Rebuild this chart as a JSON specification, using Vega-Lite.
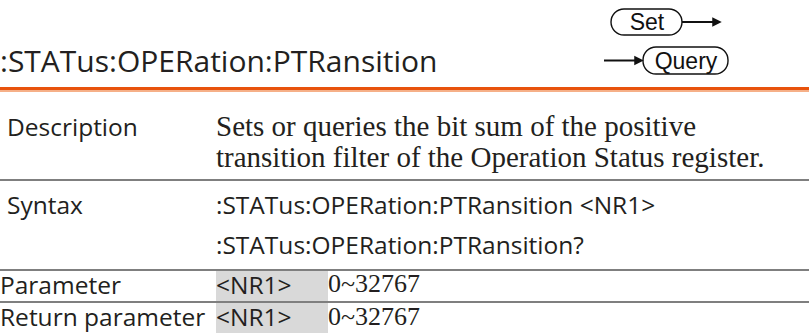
{
  "$schema": "https://vega.github.io/schema/vega-lite/v6.json",
  "width": 809,
  "height": 333,
  "padding": 0,
  "autosize": {"type": "fit", "contains": "padding"},
  "background": "white",
  "config": {"view": {"stroke": null}},
  "datasets": {
    "orange": [{"x": 0, "x2": 809, "y": 87, "y2": 90}],
    "orangeLight": [{"x": 0, "x2": 809, "y": 90, "y2": 92}],
    "separators": [
      {"x": 0, "x2": 809, "y": 179, "y2": 181},
      {"x": 0, "x2": 809, "y": 269, "y2": 271},
      {"x": 0, "x2": 809, "y": 301, "y2": 303}
    ],
    "cells": [
      {"x": 216, "x2": 328, "y": 271, "y2": 301},
      {"x": 216, "x2": 328, "y": 303, "y2": 333}
    ],
    "pills": [
      {"x": 611, "x2": 682, "y": 9, "y2": 35, "t": "Set"},
      {"x": 643, "x2": 728, "y": 47, "y2": 74, "t": "Query"}
    ],
    "arrowLines": [
      {"x": 682, "x2": 714, "y": 22},
      {"x": 604, "x2": 636, "y": 60.5}
    ],
    "arrowHeads": [
      {"x": 717, "y": 22},
      {"x": 639, "y": 60.5}
    ],
    "pillText": [
      {"x": 647, "y": 30, "t": "Set"},
      {"x": 686, "y": 69, "t": "Query"}
    ],
    "title": [{"x": 0, "y": 72, "t": ":STATus:OPERation:PTRansition"}],
    "sans": [
      {"x": 7, "y": 136, "t": "Description"},
      {"x": 7, "y": 214, "t": "Syntax"},
      {"x": 216, "y": 214, "t": ":STATus:OPERation:PTRansition <NR1>"},
      {"x": 216, "y": 254, "t": ":STATus:OPERation:PTRansition?"},
      {"x": 0, "y": 294, "t": "Parameter"},
      {"x": 216, "y": 294, "t": "<NR1>"},
      {"x": 0, "y": 326, "t": "Return parameter"},
      {"x": 216, "y": 326, "t": "<NR1>"}
    ],
    "serif": [
      {"x": 216, "y": 136, "t": "Sets or queries the bit sum of the positive"},
      {"x": 216, "y": 167, "t": "transition filter of the Operation Status register."}
    ],
    "values": [
      {"x": 328, "y": 292, "t": "0~32767"},
      {"x": 328, "y": 325, "t": "0~32767"}
    ]
  },
  "encoding": {
    "x": {"field": "x", "type": "quantitative", "axis": null, "scale": {"domain": [0, 809], "nice": false, "zero": false}},
    "y": {"field": "y", "type": "quantitative", "axis": null, "scale": {"domain": [0, 333], "nice": false, "zero": false, "reverse": true}}
  },
  "layer": [
    {
      "data": {"name": "orange"},
      "mark": {"type": "rect", "fill": "#e8520c"},
      "encoding": {"x2": {"field": "x2"}, "y2": {"field": "y2"}}
    },
    {
      "data": {"name": "orangeLight"},
      "mark": {"type": "rect", "fill": "#f6b088"},
      "encoding": {"x2": {"field": "x2"}, "y2": {"field": "y2"}}
    },
    {
      "data": {"name": "cells"},
      "mark": {"type": "rect", "fill": "#d9d9d9"},
      "encoding": {"x2": {"field": "x2"}, "y2": {"field": "y2"}}
    },
    {
      "data": {"name": "separators"},
      "mark": {"type": "rect", "fill": "#7f7f7f"},
      "encoding": {"x2": {"field": "x2"}, "y2": {"field": "y2"}}
    },
    {
      "data": {"name": "pills"},
      "mark": {"type": "rect", "fill": "white", "stroke": "#111111", "strokeWidth": 1.4, "cornerRadius": 13},
      "encoding": {"x2": {"field": "x2"}, "y2": {"field": "y2"}}
    },
    {
      "data": {"name": "arrowLines"},
      "mark": {"type": "rule", "stroke": "#111111", "strokeWidth": 2},
      "encoding": {"x2": {"field": "x2"}}
    },
    {
      "data": {"name": "arrowHeads"},
      "mark": {"type": "point", "shape": "M-1,-1L1,0L-1,1Z", "filled": true, "fill": "#111111", "opacity": 1, "size": 90, "strokeWidth": 0}
    },
    {
      "data": {"name": "pillText"},
      "mark": {"type": "text", "font": "Liberation Sans", "fontSize": 23, "align": "center", "baseline": "alphabetic", "fill": "#111111"},
      "encoding": {"text": {"field": "t"}}
    },
    {
      "data": {"name": "title"},
      "mark": {"type": "text", "font": "Open Sans", "fontSize": 30, "align": "left", "baseline": "alphabetic", "fill": "#231f20"},
      "encoding": {"text": {"field": "t"}}
    },
    {
      "data": {"name": "sans"},
      "mark": {"type": "text", "font": "Open Sans", "fontSize": 24.5, "align": "left", "baseline": "alphabetic", "fill": "#231f20"},
      "encoding": {"text": {"field": "t"}}
    },
    {
      "data": {"name": "serif"},
      "mark": {"type": "text", "font": "Liberation Serif", "fontSize": 29, "align": "left", "baseline": "alphabetic", "fill": "#231f20"},
      "encoding": {"text": {"field": "t"}}
    },
    {
      "data": {"name": "values"},
      "mark": {"type": "text", "font": "Liberation Serif", "fontSize": 26, "align": "left", "baseline": "alphabetic", "fill": "#231f20"},
      "encoding": {"text": {"field": "t"}}
    }
  ]
}
